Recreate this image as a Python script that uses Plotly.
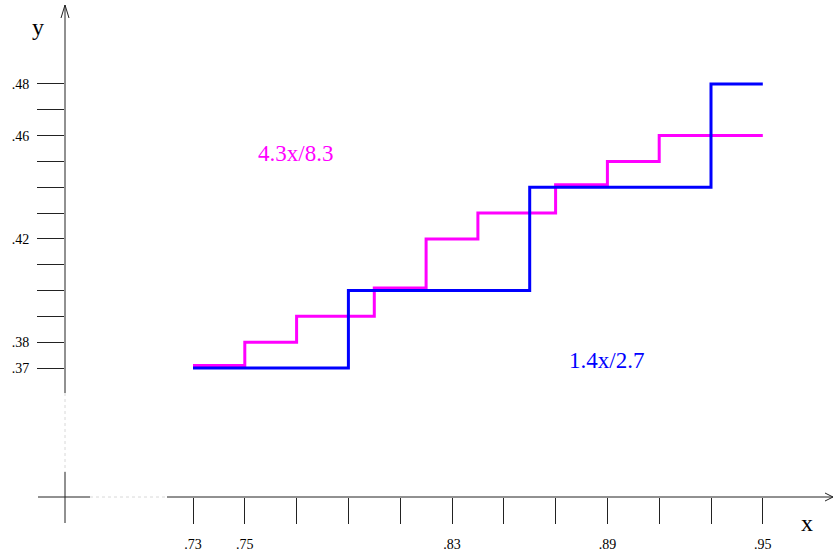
import plotly.graph_objects as go

# ---- data ----
blue_x = [0.73, 0.79, 0.86, 0.93, 0.95]
blue_y = [0.37, 0.40, 0.44, 0.48, 0.48]
mag_x = [0.73, 0.75, 0.77, 0.80, 0.82, 0.84, 0.87, 0.89, 0.91, 0.95]
mag_y = [0.371, 0.38, 0.39, 0.401, 0.42, 0.43, 0.441, 0.45, 0.46, 0.46]

x_ticks = [0.73, 0.75, 0.77, 0.79, 0.81, 0.83, 0.85, 0.87, 0.89, 0.91, 0.93, 0.95]
x_labels = [".73", ".75", "", "", "", ".83", "", "", ".89", "", "", ".95"]
y_ticks = [0.37, 0.38, 0.39, 0.40, 0.41, 0.42, 0.43, 0.44, 0.45, 0.46, 0.47, 0.48]
y_labels = [".37", ".38", "", "", "", ".42", "", "", "", ".46", "", ".48"]

blue_label = "1.4x/2.7"
mag_label = "4.3x/8.3"

# ---- layout geometry (pixels) ----
FW, FH = 834, 553
L, R, T, B = 65, 1, 5, 56
W = FW - L - R
H = FH - T - B


def px(xp):
    return (xp - L) / W


def py(yp):
    return (FH - B - yp) / H


SERIF = "Liberation Serif, Times New Roman, serif"
AX = "#222222"

fig = go.Figure()
fig.add_trace(go.Scatter(x=mag_x, y=mag_y, mode="lines", line_shape="hv",
                         line=dict(color="#FF00FF", width=3), showlegend=False,
                         hoverinfo="skip"))
fig.add_trace(go.Scatter(x=blue_x, y=blue_y, mode="lines", line_shape="hv",
                         line=dict(color="#0000FF", width=3), showlegend=False,
                         hoverinfo="skip"))

shapes = []


def seg(x0, y0, x1, y1, color=AX, dash="solid", width=1):
    shapes.append(dict(type="line", xref="paper", yref="paper",
                       x0=px(x0), y0=py(y0), x1=px(x1), y1=py(y1),
                       line=dict(color=color, width=width, dash=dash)))


# y axis (broken)
seg(65, 5, 65, 393)
seg(65, 393, 65, 472, color="#d8d8d8", dash="dot")
seg(65, 472, 65, 523)
# x axis (broken)
seg(38, 497, 90, 497)
seg(90, 497, 167, 497, color="#d8d8d8", dash="dot")
seg(167, 497, 833, 497)
# arrow heads
seg(61, 18, 65, 5)
seg(69, 18, 65, 5)
seg(825, 493, 833, 497)
seg(825, 501, 833, 497)

fig.update_layout(
    width=FW, height=FH,
    margin=dict(l=L, r=R, t=T, b=B),
    paper_bgcolor="white", plot_bgcolor="white",
    shapes=shapes,
    xaxis=dict(range=[0.73 - 128 / 2590, 0.73 + 640 / 2590],
               tickvals=x_ticks, ticktext=x_labels,
               ticks="outside", ticklen=26, tickcolor=AX, tickwidth=1,
               showgrid=False, zeroline=False, showline=False,
               tickfont=dict(family=SERIF, size=14, color="black"),
               ticklabelstandoff=8),
    yaxis=dict(range=[0.37 - 129 / 2582, 0.37 + 363 / 2582],
               tickvals=y_ticks, ticktext=y_labels,
               ticks="outside", ticklen=27, tickcolor=AX, tickwidth=1,
               showgrid=False, zeroline=False, showline=False,
               tickfont=dict(family=SERIF, size=14, color="black"),
               ticklabelstandoff=5),
    annotations=[
        dict(text=mag_label, x=0.7696, y=0.4529, xref="x", yref="y",
             xanchor="center", yanchor="middle", showarrow=False,
             font=dict(family=SERIF, size=23, color="#FF00FF")),
        dict(text=blue_label, x=0.8898, y=0.3729, xref="x", yref="y",
             xanchor="center", yanchor="middle", showarrow=False,
             font=dict(family=SERIF, size=23, color="#0000FF")),
        dict(text="y", x=px(38), y=py(27), xref="paper", yref="paper",
             xanchor="center", yanchor="middle", showarrow=False,
             font=dict(family=SERIF, size=24, color="black")),
        dict(text="x", x=px(807), y=py(523), xref="paper", yref="paper",
             xanchor="center", yanchor="middle", showarrow=False,
             font=dict(family=SERIF, size=24, color="black")),
    ],
)

fig.write_html("out.html", config={"displayModeBar": False},
               post_script="document.body.style.margin='0';")
